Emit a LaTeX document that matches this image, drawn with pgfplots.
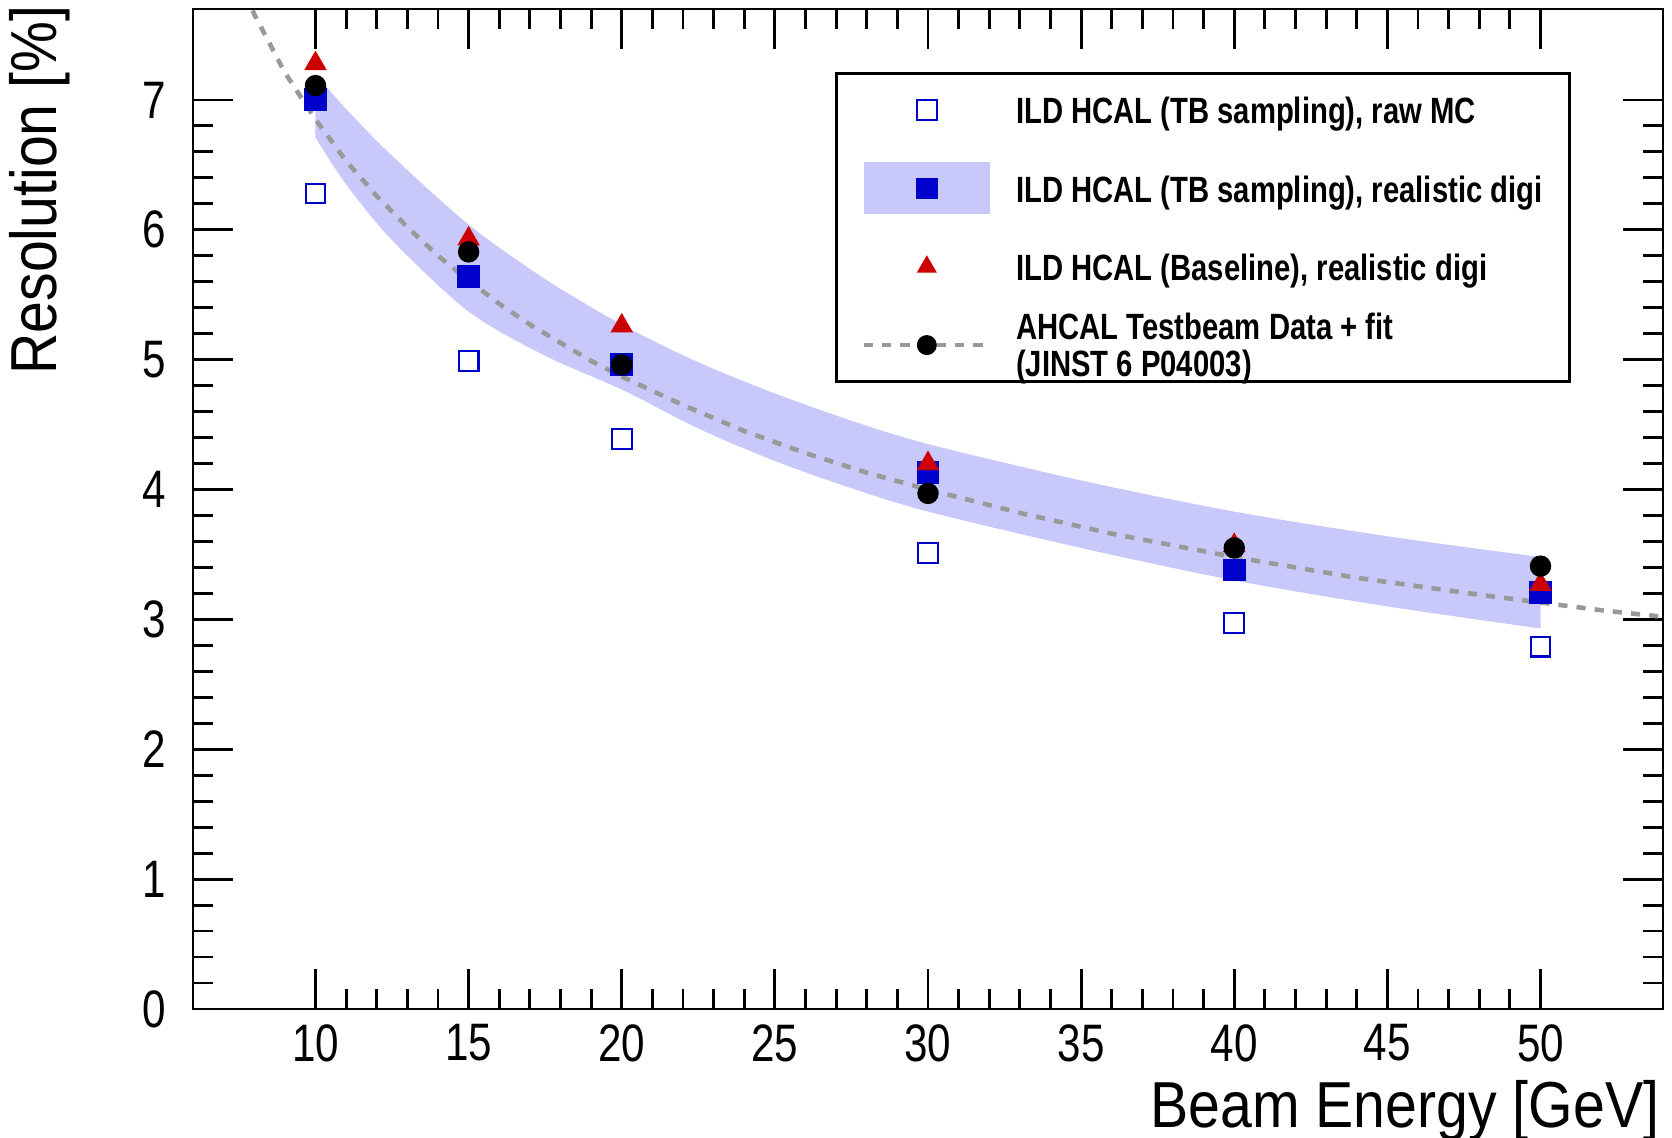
\documentclass[border=0pt]{standalone}
\usepackage{fontspec}
\setmainfont{Liberation Sans}[FakeStretch=0.8]
\newfontfamily\labelfont{Liberation Sans}[FakeStretch=0.88]
\usepackage{pgfplots}
\pgfplotsset{compat=1.18}
\usepgfplotslibrary{fillbetween}

\definecolor{bandblue}{RGB}{200,200,250}
\definecolor{mcblue}{RGB}{0,0,204}
\definecolor{digired}{RGB}{204,0,0}
\definecolor{fitgray}{RGB}{153,153,153}

% raw MC, open squares
\pgfplotstableread{
E   res
10  6.28
15  4.99
20  4.39
30  3.51
40  2.97
50  2.79
}\rawmc
% TB sampling, realistic digitisation
\pgfplotstableread{
E   res
10  7.00
15  5.64
20  4.96
30  4.13
40  3.38
50  3.21
}\tbdigi
% baseline, realistic digitisation
\pgfplotstableread{
E   res
10  7.28
15  5.93
20  5.26
30  4.20
40  3.57
50  3.27
}\basedigi
% AHCAL testbeam data
\pgfplotstableread{
E   res
10  7.11
15  5.83
20  4.96
30  3.97
40  3.55
50  3.41
}\ahcal
% fit curve
\pgfplotstableread{
E    res
7.5  7.95
8    7.66
9    7.21
10   6.85
11   6.53
12   6.26
13   6.02
14   5.80
15   5.61
16   5.43
17   5.27
18   5.13
19   4.99
20   4.87
22   4.65
24   4.45
26   4.28
28   4.13
30   4.00
33   3.82
36   3.66
40   3.48
44   3.32
48   3.19
50   3.13
52   3.07
54   3.02
}\fitcurve
% band edges
\pgfplotstableread{
E    res
10   7.20
11   6.93
12.5 6.57
15   6.04
17.5 5.62
20   5.27
22.5 4.98
25   4.74
27.5 4.53
30   4.35
35   4.07
40   3.83
45   3.64
50   3.48
}\bandup
\pgfplotstableread{
E    res
10   6.71
11   6.35
12.5 5.92
15   5.37
17.5 5.03
20   4.77
22.5 4.47
25   4.22
27.5 4.01
30   3.83
35   3.55
40   3.30
45   3.10
50   2.93
}\bandlo

\begin{document}
\begin{tikzpicture}
\begin{axis}[
    scale only axis,
    width=14.7cm, height=10cm,
    xmin=6, xmax=54, ymin=0, ymax=7.7,
    xtick={10,15,...,50}, ytick={0,1,...,7},
    minor x tick num=4, minor y tick num=4,
    major tick length=0.4cm, minor tick length=0.2cm,
    tick style={black, line width=0.8pt},
    axis line style={line width=0.8pt},
    /pgf/number format/assume math mode=true,
    tick label style={font=\fontsize{15}{18}\selectfont},
    yticklabel style={xshift=-0.15cm},
    xticklabel style={yshift=-0.03cm},
    xlabel={Beam Energy [GeV]},
    ylabel={Resolution [\%]},
    xlabel style={font=\labelfont\fontsize{18.5}{22}\selectfont,
        at={(rel axis cs:0.998,-0.119)}, anchor=base east, inner sep=0pt},
    ylabel style={font=\labelfont\fontsize{18.5}{22}\selectfont,
        at={(rel axis cs:-0.083,1.004)}, anchor=south east, inner sep=0pt},
    legend style={at={(rel axis cs:0.9374,0.937)}, anchor=north east,
        draw=black, line width=0.8pt, fill=white,
        font=\bfseries\fontsize{10.4}{12.5}\selectfont,
        inner xsep=0.2cm, inner ysep=0.105cm,
        column sep=0.17cm, row sep=0.26cm,
        cells={anchor=west, inner xsep=0pt, inner ysep=0pt,
               text height=0.33cm, text depth=0.07cm}},
    legend cell align=left,
]
\addplot[name path=up, draw=none, smooth, forget plot] table {\bandup};
\addplot[name path=lo, draw=none, smooth, forget plot] table {\bandlo};
\addplot[bandblue, forget plot] fill between[of=up and lo];
\addplot[only marks, mark=square, mark size=2.8pt, mcblue,
    mark options={line width=0.6pt}, forget plot] table {\rawmc};
\addplot[only marks, mark=square*, mark size=3.05pt, mcblue,
    forget plot] table {\tbdigi};
\addplot[only marks, mark=triangle*, mark size=3.3pt, digired,
    forget plot] table {\basedigi};
\addplot[only marks, mark=*, mark size=2.85pt, black,
    forget plot] table {\ahcal};
\addplot[fitgray, line width=1.3pt, dash pattern=on 2.6pt off 2.6pt,
    no marks, forget plot] table {\fitcurve};

\addlegendimage{legend image code/.code={
    \path[draw=none, fill=none] (-0.07cm,-0.2cm) rectangle (1.26cm,0.2cm);
    \draw[mcblue, line width=0.6pt, fill=none] (0.53cm,-0.1cm) rectangle (0.73cm,0.1cm);}}
\addlegendentry{ILD HCAL (TB sampling), raw MC}
\addlegendimage{legend image code/.code={
    \path[draw=none, fill=none] (-0.07cm,-0.2cm) rectangle (1.26cm,0.2cm);
    \fill[bandblue, draw=none, overlay] (0cm,-0.26cm) rectangle (1.26cm,0.26cm);
    \fill[mcblue, draw=none] (0.52cm,-0.108cm) rectangle (0.74cm,0.108cm);}}
\addlegendentry{ILD HCAL (TB sampling), realistic digi}
\addlegendimage{legend image code/.code={
    \path[draw=none, fill=none] (-0.07cm,-0.2cm) rectangle (1.26cm,0.2cm);
    \fill[digired, draw=none] (0.63cm,0.115cm) -- (0.53cm,-0.058cm) -- (0.73cm,-0.058cm) -- cycle;}}
\addlegendentry{ILD HCAL (Baseline), realistic digi}
\addlegendimage{legend image code/.code={
    \path[draw=none, fill=none] (-0.07cm,-0.2cm) rectangle (1.26cm,0.2cm);
    \draw[fitgray, line width=1.3pt, dash pattern=on 2.6pt off 2.6pt] (0cm,0cm) -- (1.26cm,0cm);
    \fill[black, draw=none] (0.63cm,0cm) circle (0.1cm);}}
\addlegendentry{{\fontsize{10.4}{10}\selectfont\begin{tabular}[c]{@{}l@{}}AHCAL Testbeam Data + fit\\(JINST 6 P04003)\end{tabular}}}
\end{axis}
\pgfresetboundingbox
\path[use as bounding box] ([shift={(-1.93cm,-1.29cm)}]current axis.south west)
    rectangle ([shift={(0.09cm,0.09cm)}]current axis.north east);
\end{tikzpicture}
\end{document}
